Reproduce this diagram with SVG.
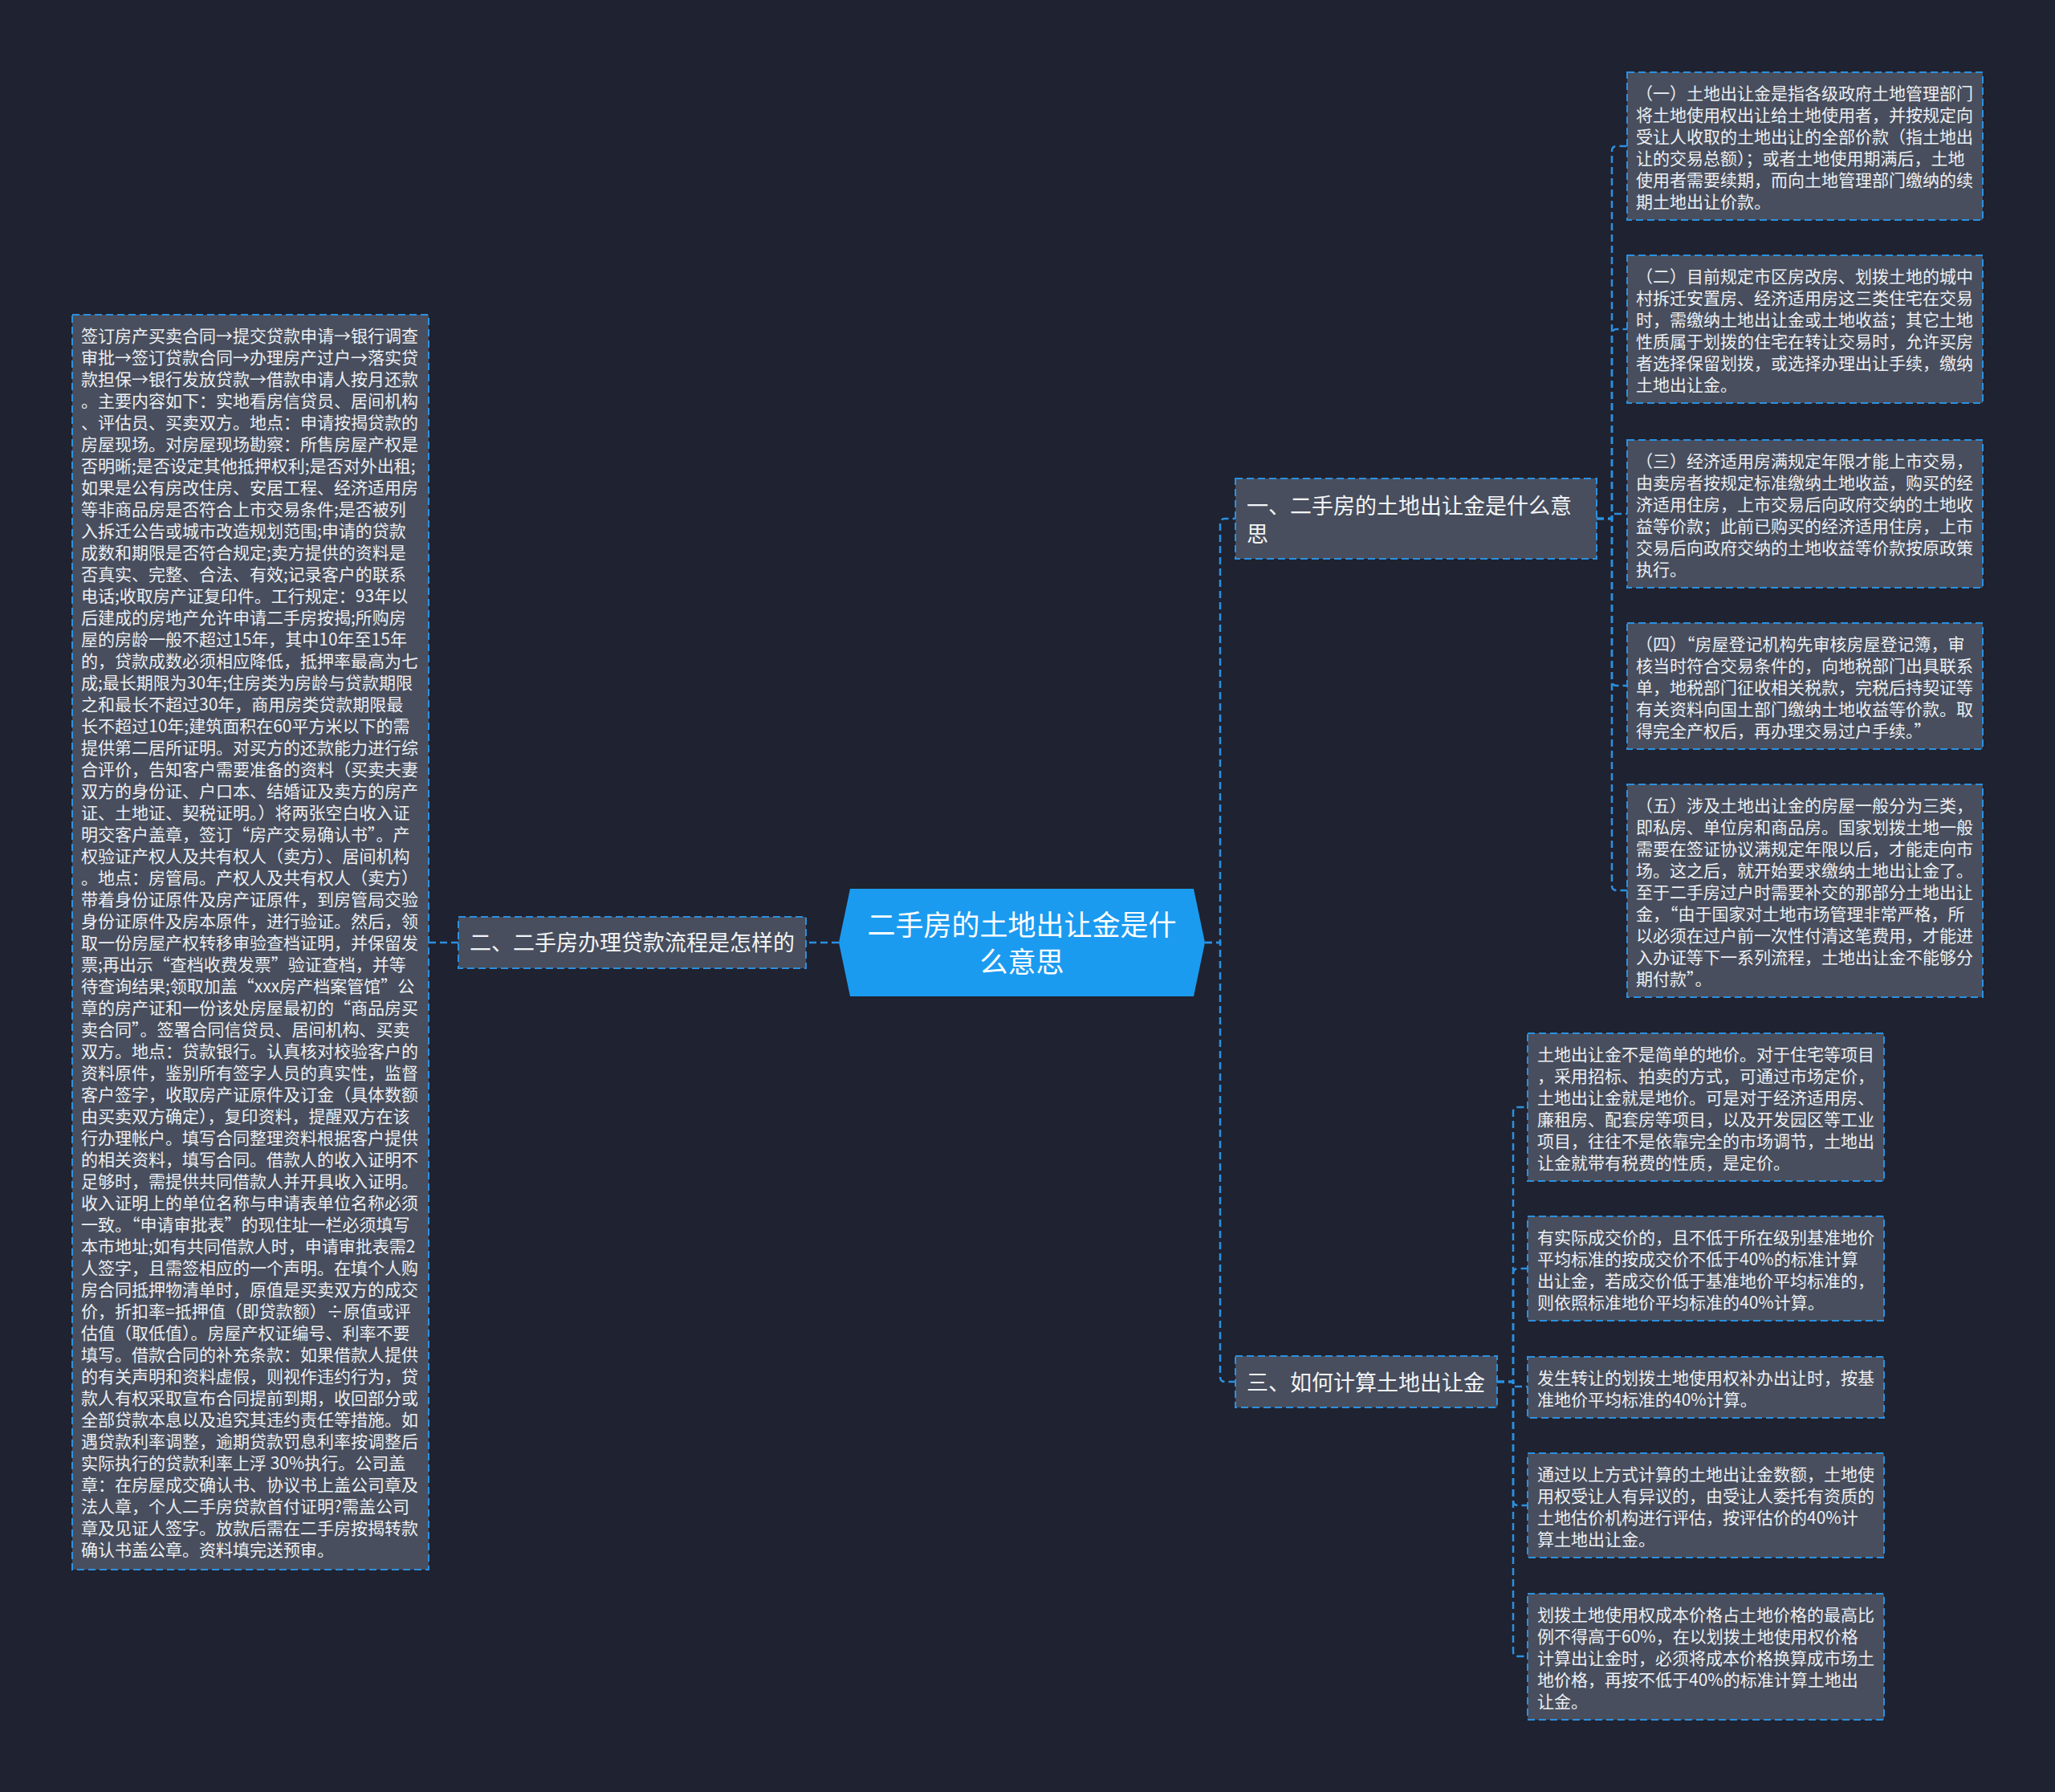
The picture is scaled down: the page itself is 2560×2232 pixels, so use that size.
<svg xmlns="http://www.w3.org/2000/svg" width="2560" height="2232" viewBox="0 0 2560 2232">
<style>
.bg{fill:#1f2230}
.box{fill:#484e5d;stroke:#2b90e0;stroke-width:2;stroke-dasharray:9 5}
.conn{fill:none;stroke:#2b90e0;stroke-width:2.5;stroke-dasharray:9 5}
.t{font-family:"Noto Sans CJK SC","Noto Sans",sans-serif;fill:#eceef2;font-size:21px}
.tb{font-family:"Noto Sans CJK SC","Noto Sans",sans-serif;fill:#f2f4f6;font-size:27px}
.tc{font-family:"Noto Sans CJK SC","Noto Sans",sans-serif;fill:#ffffff;font-size:35px;text-anchor:middle}
</style>
<rect class="bg" x="0" y="0" width="2560" height="2232"/>

<g id="connectors">
<path class="conn" d="M1045 1174 H1004"/>
<path class="conn" d="M571 1174 H534"/>
<path class="conn" d="M1501 1174 H1520 V652 Q1520 646 1526 646 H1539"/>
<path class="conn" d="M1501 1174 H1520 V1715 Q1520 1721 1526 1721 H1539"/>
<path class="conn" d="M1989 646 H2008 V188 Q2008 182 2014 182 H2027"/>
<path class="conn" d="M1989 646 H2008 V416 Q2008 410 2014 410 H2027"/>
<path class="conn" d="M1989 646 H2008 V640 H2027"/>
<path class="conn" d="M1989 646 H2008 V848 Q2008 854 2014 854 H2027"/>
<path class="conn" d="M1989 646 H2008 V1103 Q2008 1109 2014 1109 H2027"/>
<path class="conn" d="M1865 1721 H1885 V1385 Q1885 1379 1891 1379 H1903"/>
<path class="conn" d="M1865 1721 H1885 V1586 Q1885 1580 1891 1580 H1903"/>
<path class="conn" d="M1865 1721 H1885 V1727 H1903"/>
<path class="conn" d="M1865 1721 H1885 V1869 Q1885 1875 1891 1875 H1903"/>
<path class="conn" d="M1865 1721 H1885 V2057 Q1885 2063 1891 2063 H1903"/>
</g>

<g id="root">
<polygon points="1045,1174 1059,1107 1487,1107 1501,1174 1487,1241 1059,1241" fill="#1b9bf0"/>
<text class="tc"><tspan x="1273" y="1165">二手房的土地出让金是什</tspan><tspan x="1273" y="1211">么意思</tspan></text>
</g>

<g id="branch-left">
<rect class="box" x="571" y="1142" width="433" height="64"/>
<text class="tb" x="585" y="1184">二、二手房办理贷款流程是怎样的</text>
</g>

<g id="leaf-left">
<rect class="box" x="90" y="392" width="444" height="1563"/>
<text class="t">
<tspan x="101" y="426">签订房产买卖合同→提交贷款申请→银行调查</tspan>
<tspan x="101" dy="27">审批→签订贷款合同→办理房产过户→落实贷</tspan>
<tspan x="101" dy="27">款担保→银行发放贷款→借款申请人按月还款</tspan>
<tspan x="101" dy="27">。主要内容如下：实地看房信贷员、居间机构</tspan>
<tspan x="101" dy="27">、评估员、买卖双方。地点：申请按揭贷款的</tspan>
<tspan x="101" dy="27">房屋现场。对房屋现场勘察：所售房屋产权是</tspan>
<tspan x="101" dy="27">否明晰;是否设定其他抵押权利;是否对外出租;</tspan>
<tspan x="101" dy="27">如果是公有房改住房、安居工程、经济适用房</tspan>
<tspan x="101" dy="27">等非商品房是否符合上市交易条件;是否被列</tspan>
<tspan x="101" dy="27">入拆迁公告或城市改造规划范围;申请的贷款</tspan>
<tspan x="101" dy="27">成数和期限是否符合规定;卖方提供的资料是</tspan>
<tspan x="101" dy="27">否真实、完整、合法、有效;记录客户的联系</tspan>
<tspan x="101" dy="27">电话;收取房产证复印件。工行规定：93年以</tspan>
<tspan x="101" dy="27">后建成的房地产允许申请二手房按揭;所购房</tspan>
<tspan x="101" dy="27">屋的房龄一般不超过15年，其中10年至15年</tspan>
<tspan x="101" dy="27">的，贷款成数必须相应降低，抵押率最高为七</tspan>
<tspan x="101" dy="27">成;最长期限为30年;住房类为房龄与贷款期限</tspan>
<tspan x="101" dy="27">之和最长不超过30年，商用房类贷款期限最</tspan>
<tspan x="101" dy="27">长不超过10年;建筑面积在60平方米以下的需</tspan>
<tspan x="101" dy="27">提供第二居所证明。对买方的还款能力进行综</tspan>
<tspan x="101" dy="27">合评价，告知客户需要准备的资料（买卖夫妻</tspan>
<tspan x="101" dy="27">双方的身份证、户口本、结婚证及卖方的房产</tspan>
<tspan x="101" dy="27">证、土地证、契税证明。）将两张空白收入证</tspan>
<tspan x="101" dy="27">明交客户盖章，签订“房产交易确认书”。产</tspan>
<tspan x="101" dy="27">权验证产权人及共有权人（卖方）、居间机构</tspan>
<tspan x="101" dy="27">。地点：房管局。产权人及共有权人（卖方）</tspan>
<tspan x="101" dy="27">带着身份证原件及房产证原件，到房管局交验</tspan>
<tspan x="101" dy="27">身份证原件及房本原件，进行验证。然后，领</tspan>
<tspan x="101" dy="27">取一份房屋产权转移审验查档证明，并保留发</tspan>
<tspan x="101" dy="27">票;再出示“查档收费发票”验证查档，并等</tspan>
<tspan x="101" dy="27">待查询结果;领取加盖“xxx房产档案管馆”公</tspan>
<tspan x="101" dy="27">章的房产证和一份该处房屋最初的“商品房买</tspan>
<tspan x="101" dy="27">卖合同”。签署合同信贷员、居间机构、买卖</tspan>
<tspan x="101" dy="27">双方。地点：贷款银行。认真核对校验客户的</tspan>
<tspan x="101" dy="27">资料原件，鉴别所有签字人员的真实性，监督</tspan>
<tspan x="101" dy="27">客户签字，收取房产证原件及订金（具体数额</tspan>
<tspan x="101" dy="27">由买卖双方确定），复印资料，提醒双方在该</tspan>
<tspan x="101" dy="27">行办理帐户。填写合同整理资料根据客户提供</tspan>
<tspan x="101" dy="27">的相关资料，填写合同。借款人的收入证明不</tspan>
<tspan x="101" dy="27">足够时，需提供共同借款人并开具收入证明。</tspan>
<tspan x="101" dy="27">收入证明上的单位名称与申请表单位名称必须</tspan>
<tspan x="101" dy="27">一致。“申请审批表”的现住址一栏必须填写</tspan>
<tspan x="101" dy="27">本市地址;如有共同借款人时，申请审批表需2</tspan>
<tspan x="101" dy="27">人签字，且需签相应的一个声明。在填个人购</tspan>
<tspan x="101" dy="27">房合同抵押物清单时，原值是买卖双方的成交</tspan>
<tspan x="101" dy="27">价，折扣率=抵押值（即贷款额）÷原值或评</tspan>
<tspan x="101" dy="27">估值（取低值）。房屋产权证编号、利率不要</tspan>
<tspan x="101" dy="27">填写。借款合同的补充条款：如果借款人提供</tspan>
<tspan x="101" dy="27">的有关声明和资料虚假，则视作违约行为，贷</tspan>
<tspan x="101" dy="27">款人有权采取宣布合同提前到期，收回部分或</tspan>
<tspan x="101" dy="27">全部贷款本息以及追究其违约责任等措施。如</tspan>
<tspan x="101" dy="27">遇贷款利率调整，逾期贷款罚息利率按调整后</tspan>
<tspan x="101" dy="27">实际执行的贷款利率上浮 30%执行。公司盖</tspan>
<tspan x="101" dy="27">章：在房屋成交确认书、协议书上盖公司章及</tspan>
<tspan x="101" dy="27">法人章，个人二手房贷款首付证明?需盖公司</tspan>
<tspan x="101" dy="27">章及见证人签字。放款后需在二手房按揭转款</tspan>
<tspan x="101" dy="27">确认书盖公章。资料填完送预审。</tspan>
</text>
</g>

<g id="branch-1">
<rect class="box" x="1539" y="596" width="450" height="100"/>
<text class="tb"><tspan x="1553" y="640">一、二手房的土地出让金是什么意</tspan><tspan x="1553" y="675">思</tspan></text>
</g>

<g id="leaf-1-1">
<rect class="box" x="2027" y="90" width="443" height="184"/>
<text class="t">
<tspan x="2038" y="124">（一）土地出让金是指各级政府土地管理部门</tspan>
<tspan x="2038" dy="27">将土地使用权出让给土地使用者，并按规定向</tspan>
<tspan x="2038" dy="27">受让人收取的土地出让的全部价款（指土地出</tspan>
<tspan x="2038" dy="27">让的交易总额）；或者土地使用期满后，土地</tspan>
<tspan x="2038" dy="27">使用者需要续期，而向土地管理部门缴纳的续</tspan>
<tspan x="2038" dy="27">期土地出让价款。</tspan>
</text>
</g>

<g id="leaf-1-2">
<rect class="box" x="2027" y="318" width="443" height="184"/>
<text class="t">
<tspan x="2038" y="352">（二）目前规定市区房改房、划拨土地的城中</tspan>
<tspan x="2038" dy="27">村拆迁安置房、经济适用房这三类住宅在交易</tspan>
<tspan x="2038" dy="27">时，需缴纳土地出让金或土地收益；其它土地</tspan>
<tspan x="2038" dy="27">性质属于划拨的住宅在转让交易时，允许买房</tspan>
<tspan x="2038" dy="27">者选择保留划拨，或选择办理出让手续，缴纳</tspan>
<tspan x="2038" dy="27">土地出让金。</tspan>
</text>
</g>

<g id="leaf-1-3">
<rect class="box" x="2027" y="548" width="443" height="184"/>
<text class="t">
<tspan x="2038" y="582">（三）经济适用房满规定年限才能上市交易，</tspan>
<tspan x="2038" dy="27">由卖房者按规定标准缴纳土地收益，购买的经</tspan>
<tspan x="2038" dy="27">济适用住房，上市交易后向政府交纳的土地收</tspan>
<tspan x="2038" dy="27">益等价款；此前已购买的经济适用住房，上市</tspan>
<tspan x="2038" dy="27">交易后向政府交纳的土地收益等价款按原政策</tspan>
<tspan x="2038" dy="27">执行。</tspan>
</text>
</g>

<g id="leaf-1-4">
<rect class="box" x="2027" y="776" width="443" height="157"/>
<text class="t">
<tspan x="2038" y="810">（四）“房屋登记机构先审核房屋登记簿，审</tspan>
<tspan x="2038" dy="27">核当时符合交易条件的，向地税部门出具联系</tspan>
<tspan x="2038" dy="27">单，地税部门征收相关税款，完税后持契证等</tspan>
<tspan x="2038" dy="27">有关资料向国土部门缴纳土地收益等价款。取</tspan>
<tspan x="2038" dy="27">得完全产权后，再办理交易过户手续。”</tspan>
</text>
</g>

<g id="leaf-1-5">
<rect class="box" x="2027" y="977" width="443" height="265"/>
<text class="t">
<tspan x="2038" y="1011">（五）涉及土地出让金的房屋一般分为三类，</tspan>
<tspan x="2038" dy="27">即私房、单位房和商品房。国家划拨土地一般</tspan>
<tspan x="2038" dy="27">需要在签证协议满规定年限以后，才能走向市</tspan>
<tspan x="2038" dy="27">场。这之后，就开始要求缴纳土地出让金了。</tspan>
<tspan x="2038" dy="27">至于二手房过户时需要补交的那部分土地出让</tspan>
<tspan x="2038" dy="27">金，“由于国家对土地市场管理非常严格，所</tspan>
<tspan x="2038" dy="27">以必须在过户前一次性付清这笔费用，才能进</tspan>
<tspan x="2038" dy="27">入办证等下一系列流程，土地出让金不能够分</tspan>
<tspan x="2038" dy="27">期付款”。</tspan>
</text>
</g>

<g id="branch-3">
<rect class="box" x="1539" y="1689" width="326" height="64"/>
<text class="tb" x="1553" y="1732">三、如何计算土地出让金</text>
</g>

<g id="leaf-3-1">
<rect class="box" x="1903" y="1287" width="444" height="184"/>
<text class="t">
<tspan x="1915" y="1321">土地出让金不是简单的地价。对于住宅等项目</tspan>
<tspan x="1915" dy="27">，采用招标、拍卖的方式，可通过市场定价，</tspan>
<tspan x="1915" dy="27">土地出让金就是地价。可是对于经济适用房、</tspan>
<tspan x="1915" dy="27">廉租房、配套房等项目，以及开发园区等工业</tspan>
<tspan x="1915" dy="27">项目，往往不是依靠完全的市场调节，土地出</tspan>
<tspan x="1915" dy="27">让金就带有税费的性质，是定价。</tspan>
</text>
</g>

<g id="leaf-3-2">
<rect class="box" x="1903" y="1515" width="444" height="130"/>
<text class="t">
<tspan x="1915" y="1549">有实际成交价的，且不低于所在级别基准地价</tspan>
<tspan x="1915" dy="27">平均标准的按成交价不低于40%的标准计算</tspan>
<tspan x="1915" dy="27">出让金，若成交价低于基准地价平均标准的，</tspan>
<tspan x="1915" dy="27">则依照标准地价平均标准的40%计算。</tspan>
</text>
</g>

<g id="leaf-3-3">
<rect class="box" x="1903" y="1690" width="444" height="76"/>
<text class="t">
<tspan x="1915" y="1724">发生转让的划拨土地使用权补办出让时，按基</tspan>
<tspan x="1915" dy="27">准地价平均标准的40%计算。</tspan>
</text>
</g>

<g id="leaf-3-4">
<rect class="box" x="1903" y="1810" width="444" height="130"/>
<text class="t">
<tspan x="1915" y="1844">通过以上方式计算的土地出让金数额，土地使</tspan>
<tspan x="1915" dy="27">用权受让人有异议的，由受让人委托有资质的</tspan>
<tspan x="1915" dy="27">土地估价机构进行评估，按评估价的40%计</tspan>
<tspan x="1915" dy="27">算土地出让金。</tspan>
</text>
</g>

<g id="leaf-3-5">
<rect class="box" x="1903" y="1985" width="444" height="157"/>
<text class="t">
<tspan x="1915" y="2019">划拨土地使用权成本价格占土地价格的最高比</tspan>
<tspan x="1915" dy="27">例不得高于60%，在以划拨土地使用权价格</tspan>
<tspan x="1915" dy="27">计算出让金时，必须将成本价格换算成市场土</tspan>
<tspan x="1915" dy="27">地价格，再按不低于40%的标准计算土地出</tspan>
<tspan x="1915" dy="27">让金。</tspan>
</text>
</g>
</svg>
